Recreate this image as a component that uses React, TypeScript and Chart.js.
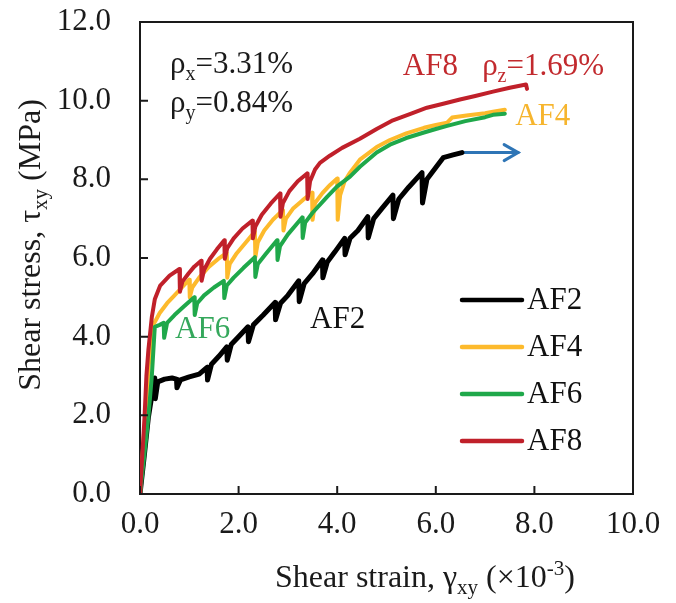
import { useEffect, useRef } from 'react';
import { Chart, registerables } from 'chart.js';

Chart.register(...registerables);

const FONT = '"Liberation Serif", "Times New Roman", serif';
const FS = 31;
const SUB = 20;

// ---- data (x: shear strain ×10^-3, y: shear stress MPa) ----
const af2X = [0, 0.08, 0.17, 0.24, 0.30, 0.31, 0.36, 0.5, 0.65, 0.74, 0.75, 0.82, 1.0, 1.2, 1.36, 1.37, 1.45, 1.6, 1.76, 1.77, 1.85, 2.0, 2.19, 2.2, 2.3, 2.5, 2.74, 2.75, 2.85, 3.0, 3.22, 3.23, 3.33, 3.5, 3.70, 3.71, 3.8, 3.95, 4.15, 4.16, 4.26, 4.42, 4.62, 4.63, 4.74, 4.9, 5.13, 5.14, 5.25, 5.45, 5.72, 5.73, 5.82, 6.0, 6.15, 6.35, 6.53];
const af2Y = [0, 0.9, 1.95, 2.5, 2.95, 2.42, 2.85, 2.92, 2.95, 2.92, 2.7, 2.9, 2.98, 3.05, 3.22, 2.9, 3.3, 3.5, 3.74, 3.4, 3.8, 4.0, 4.25, 3.87, 4.3, 4.55, 4.87, 4.43, 4.85, 5.05, 5.42, 4.89, 5.35, 5.6, 5.95, 5.5, 5.9, 6.15, 6.5, 6.08, 6.5, 6.7, 7.05, 6.51, 7.0, 7.25, 7.6, 7.0, 7.5, 7.8, 8.17, 7.4, 8.0, 8.3, 8.55, 8.62, 8.68];

const af4X = [0, 0.1, 0.18, 0.24, 0.27, 0.4, 0.55, 0.7, 0.85, 1.0, 1.01, 1.06, 1.2, 1.4, 1.58, 1.76, 1.77, 1.82, 1.95, 2.15, 2.33, 2.34, 2.39, 2.52, 2.7, 2.9, 2.91, 2.96, 3.1, 3.3, 3.49, 3.50, 3.55, 3.7, 3.85, 4.0, 4.01, 4.06, 4.15, 4.26, 4.46, 4.8, 5.07, 5.4, 5.76, 6.0, 6.23, 6.33, 6.66, 7.0, 7.16, 7.40];
const af4Y = [0, 1.9, 3.3, 4.0, 4.3, 4.6, 4.85, 5.05, 5.25, 5.45, 5.0, 5.25, 5.5, 5.78, 5.97, 6.13, 5.5, 5.85, 6.1, 6.4, 6.67, 6.03, 6.4, 6.7, 6.98, 7.22, 6.7, 7.0, 7.25, 7.47, 7.66, 6.97, 7.4, 7.65, 7.85, 8.02, 6.97, 7.6, 7.95, 8.17, 8.5, 8.82, 9.0, 9.17, 9.31, 9.38, 9.44, 9.57, 9.63, 9.68, 9.72, 9.77];

const af6X = [0, 0.08, 0.17, 0.24, 0.30, 0.4, 0.48, 0.49, 0.55, 0.7, 0.9, 1.1, 1.11, 1.16, 1.3, 1.5, 1.70, 1.71, 1.76, 1.9, 2.1, 2.33, 2.34, 2.39, 2.55, 2.78, 2.79, 2.84, 3.0, 3.29, 3.30, 3.35, 3.5, 3.79, 4.0, 4.26, 4.46, 4.8, 5.07, 5.4, 5.76, 6.0, 6.23, 6.6, 7.0, 7.16, 7.40];
const af6Y = [0, 0.9, 1.96, 3.0, 4.25, 4.3, 4.35, 3.97, 4.35, 4.55, 4.78, 5.0, 4.55, 4.85, 5.05, 5.25, 5.42, 4.98, 5.3, 5.5, 5.75, 6.02, 5.52, 5.85, 6.1, 6.45, 5.95, 6.3, 6.6, 7.03, 6.51, 6.9, 7.15, 7.55, 7.82, 8.07, 8.32, 8.68, 8.88, 9.05, 9.19, 9.28, 9.36, 9.48, 9.58, 9.64, 9.67];

const af8X = [0, 0.09, 0.13, 0.17, 0.24, 0.30, 0.41, 0.6, 0.80, 0.81, 0.86, 0.98, 1.1, 1.24, 1.25, 1.3, 1.42, 1.56, 1.71, 1.72, 1.77, 1.9, 2.08, 2.28, 2.29, 2.34, 2.47, 2.65, 2.84, 2.85, 2.9, 3.03, 3.2, 3.39, 3.40, 3.45, 3.55, 3.65, 3.85, 4.1, 4.46, 4.8, 5.13, 5.5, 5.82, 6.15, 6.49, 6.8, 7.16, 7.5, 7.83, 7.85];
const af8Y = [0, 1.9, 3.0, 3.66, 4.5, 4.95, 5.3, 5.55, 5.72, 5.14, 5.4, 5.6, 5.78, 5.93, 5.42, 5.7, 5.98, 6.22, 6.45, 5.98, 6.25, 6.5, 6.75, 6.95, 6.5, 6.8, 7.1, 7.38, 7.64, 7.05, 7.4, 7.7, 7.95, 8.15, 7.5, 7.95, 8.25, 8.42, 8.6, 8.8, 9.03, 9.28, 9.5, 9.67, 9.82, 9.92, 10.03, 10.12, 10.23, 10.33, 10.41, 10.3];

const arrowX = [6.53, 7.67];
const arrowY = [8.68, 8.68];

const seriesLabels = ['AF2', 'AF4', 'AF6', 'AF8'];
const seriesColors = ['#000000', '#FDBA2C', '#1FA84A', '#C0202A'];
const labelColors = ['#111111', '#F6B52E', '#35A85C', '#C22A2E'];

const xTickValues = [0, 2, 4, 6, 8, 10];
const yTickValues = [0, 2, 4, 6, 8, 10, 12];

type Part = [string, 'n' | 'sub' | 'sup'];
const annotations: { x: number; y: number; color: string; parts: Part[] }[] = [
  { x: 0.61, y: 10.71, color: '#1a1a1a', parts: [['ρ', 'n'], ['x', 'sub'], ['=3.31%', 'n']] },
  { x: 0.61, y: 9.72, color: '#1a1a1a', parts: [['ρ', 'n'], ['y', 'sub'], ['=0.84%', 'n']] },
  { x: 5.33, y: 10.66, color: labelColors[3], parts: [['AF8', 'n']] },
  { x: 6.94, y: 10.66, color: labelColors[3], parts: [['ρ', 'n'], ['z', 'sub'], ['=1.69%', 'n']] },
  { x: 7.61, y: 9.39, color: labelColors[1], parts: [['AF4', 'n']] },
  { x: 0.71, y: 3.97, color: labelColors[2], parts: [['AF6', 'n']] },
  { x: 3.45, y: 4.22, color: labelColors[0], parts: [['AF2', 'n']] },
];

const zip = (xs: number[], ys: number[]) => xs.map((x, i) => ({ x, y: ys[i] }));

function partsWidth(ctx: CanvasRenderingContext2D, parts: Part[], fs = FS, sub = SUB) {
  let w = 0;
  for (const [t, k] of parts) {
    ctx.font = `${k === 'n' ? fs : sub}px ${FONT}`;
    w += ctx.measureText(t).width;
  }
  return w;
}

function drawParts(ctx: CanvasRenderingContext2D, parts: Part[], x: number, y: number, color: string, fs = FS, sub = SUB) {
  ctx.fillStyle = color;
  ctx.textBaseline = 'alphabetic';
  ctx.textAlign = 'left';
  let cx = x;
  for (const [t, k] of parts) {
    ctx.font = `${k === 'n' ? fs : sub}px ${FONT}`;
    const dy = k === 'sub' ? 7 : k === 'sup' ? -12 : 0;
    ctx.fillText(t, cx, y + dy);
    cx += ctx.measureText(t).width;
  }
}

const decorPlugin = {
  id: 'decor',
  afterDraw(chart: any) {
    const { ctx, chartArea: a, scales } = chart;
    const xs = scales.x;
    const ys = scales.y;
    ctx.save();
    // frame top & right
    ctx.strokeStyle = '#1a1a1a';
    ctx.lineWidth = 2;
    ctx.beginPath();
    ctx.moveTo(a.left, a.top);
    ctx.lineTo(a.right, a.top);
    ctx.lineTo(a.right, a.bottom);
    ctx.stroke();
    // inside ticks
    ctx.beginPath();
    for (const v of xTickValues) {
      const px = xs.getPixelForValue(v);
      ctx.moveTo(px, a.bottom);
      ctx.lineTo(px, a.bottom - 8);
    }
    for (const v of yTickValues) {
      const py = ys.getPixelForValue(v);
      ctx.moveTo(a.left, py);
      ctx.lineTo(a.left + 8, py);
    }
    ctx.stroke();

    // arrow head
    const tipX = xs.getPixelForValue(arrowX[1]);
    const tipY = ys.getPixelForValue(arrowY[1]);
    ctx.strokeStyle = '#2E75B6';
    ctx.lineWidth = 3;
    ctx.lineCap = 'round';
    ctx.beginPath();
    ctx.moveTo(tipX - 14, tipY - 8);
    ctx.lineTo(tipX, tipY);
    ctx.lineTo(tipX - 14, tipY + 8);
    ctx.stroke();

    // annotations
    for (const an of annotations) {
      drawParts(ctx, an.parts, xs.getPixelForValue(an.x), ys.getPixelForValue(an.y), an.color);
    }

    // legend
    const lx0 = a.left + 322;
    const ly0 = a.top + 278;
    seriesLabels.forEach((lab, i) => {
      const ly = ly0 + i * 47;
      ctx.strokeStyle = seriesColors[i];
      ctx.lineWidth = 4.5;
      ctx.lineCap = 'round';
      ctx.beginPath();
      ctx.moveTo(lx0, ly);
      ctx.lineTo(lx0 + 60, ly);
      ctx.stroke();
      ctx.font = `${FS}px ${FONT}`;
      ctx.fillStyle = '#111';
      ctx.textBaseline = 'middle';
      ctx.textAlign = 'left';
      ctx.fillText(lab, lx0 + 65, ly + 1);
    });

    // axis titles
    const xt: Part[] = [['Shear strain, γ', 'n'], ['xy', 'sub'], [' (×10', 'n'], ['-3', 'sup'], [')', 'n']];
    const wx = partsWidth(ctx, xt, 32, 21);
    drawParts(ctx, xt, 425 - wx / 2, 587, '#1a1a1a', 32, 21);

    const yt: Part[] = [['Shear stress, τ', 'n'], ['xy', 'sub'], [' (MPa)', 'n']];
    const wy = partsWidth(ctx, yt, 32, 21);
    ctx.translate(40, 245);
    ctx.rotate(-Math.PI / 2);
    drawParts(ctx, yt, -wy / 2, 0, '#1a1a1a', 32, 21);
    ctx.restore();
  },
};

export default function App() {
  const ref = useRef<HTMLCanvasElement | null>(null);
  useEffect(() => {
    if (!ref.current) return;
    const tickFont = { family: FONT, size: FS };
    const chart = new Chart(ref.current, {
      type: 'line',
      data: {
        datasets: [
          { label: 'AF2', data: zip(af2X, af2Y), borderColor: seriesColors[0], borderWidth: 5, order: 4 },
          { label: 'AF4', data: zip(af4X, af4Y), borderColor: seriesColors[1], borderWidth: 4, order: 3 },
          { label: 'AF6', data: zip(af6X, af6Y), borderColor: seriesColors[2], borderWidth: 4, order: 2 },
          { label: 'AF8', data: zip(af8X, af8Y), borderColor: seriesColors[3], borderWidth: 4, order: 1 },
          { label: 'arrow', data: zip(arrowX, arrowY), borderColor: '#2E75B6', borderWidth: 3, order: 5 },
        ] as any,
      },
      options: {
        animation: false,
        responsive: false,
        devicePixelRatio: 1,
        elements: {
          point: { radius: 0, hoverRadius: 0 },
          line: { tension: 0, borderJoinStyle: 'round', borderCapStyle: 'round', fill: false },
        },
        layout: { padding: { top: 22, right: 43, left: 0, bottom: 0 } },
        plugins: { legend: { display: false }, tooltip: { enabled: false } },
        scales: {
          x: {
            type: 'linear',
            min: 0,
            max: 10,
            afterFit: (s: any) => { s.height = 109; s.paddingLeft = 0; s.paddingRight = 0; },
            afterBuildTicks: (s: any) => { s.ticks = xTickValues.map((v) => ({ value: v })); },
            ticks: { font: tickFont, color: '#1a1a1a', padding: 12, maxRotation: 0, callback: (v: any) => Number(v).toFixed(1) },
            grid: { display: false, drawTicks: false },
            border: { display: true, color: '#1a1a1a', width: 2 },
          },
          y: {
            type: 'linear',
            min: 0,
            max: 12,
            afterFit: (s: any) => { s.width = 140; s.paddingTop = 0; s.paddingBottom = 0; },
            afterBuildTicks: (s: any) => { s.ticks = yTickValues.map((v) => ({ value: v })); },
            ticks: { font: tickFont, color: '#1a1a1a', padding: 29, callback: (v: any) => Number(v).toFixed(1) },
            grid: { display: false, drawTicks: false },
            border: { display: true, color: '#1a1a1a', width: 2 },
          },
        },
      },
      plugins: [decorPlugin],
    } as any);
    return () => chart.destroy();
  }, []);
  return (
    <div style={{ position: 'fixed', left: 0, top: 0, width: 676, height: 603, background: '#fff' }}>
      <canvas ref={ref} width={676} height={603} style={{ width: 676, height: 603, display: 'block' }} />
    </div>
  );
}
